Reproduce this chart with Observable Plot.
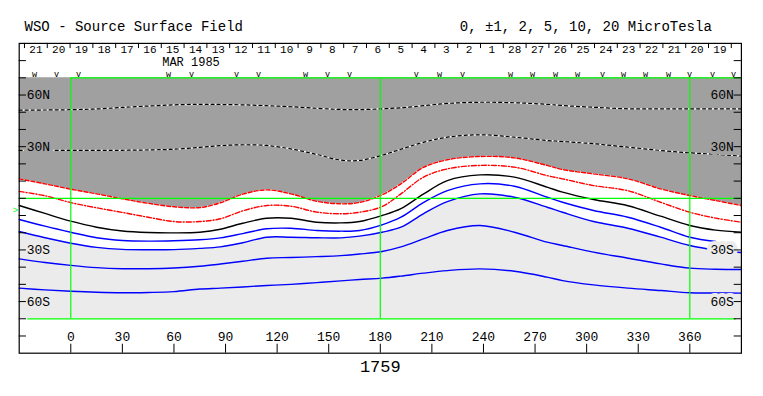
<!DOCTYPE html>
<html>
<head>
<meta charset="utf-8">
<script src="https://cdn.jsdelivr.net/npm/d3@7"></script>
<script src="https://cdn.jsdelivr.net/npm/@observablehq/plot@0.6"></script>
<style>
  html, body { margin: 0; padding: 0; background: #fff; }
  #chart svg { display: block; }
</style>
</head>
<body>
<div id="chart"></div>
<script>
// ---- Data ----
const title = "WSO - Source Surface Field";
const levelsText = "0, \u00b11, 2, 5, 10, 20 MicroTesla";
const rotation = "1759";
const monthLabel = "MAR 1985";

// Carrington longitude samples
const lon = [-30,-15,0,15,30,45,60,75,87,100,114,128,143,157,168,181,192,205,219,238,258,277,286,304,324,343,360,375,390];
// contour latitudes (degrees) per level (microTesla)
const n10 = [51.2,51.3,51.5,51.9,52.8,53.6,54.3,54.6,54.5,54.3,53.8,53.2,52.3,51.6,51.5,52.0,52.6,53.8,55.1,55.8,55.5,54.6,53.9,52.9,52.0,52.0,52.0,52.0,52.0];
const n5  = [27.8,27.8,27.8,27.8,27.9,28.1,28.5,29.6,30.6,31.1,30.7,28.7,25.5,22.2,22.0,25.0,28.5,32.5,35.5,36.9,35.5,33.6,33.0,31.7,29.7,27.8,26.4,25.6,24.5];
const n2  = [11.3,8.4,5.3,2.6,-0.3,-2.9,-4.9,-5.4,-2.6,2.4,4.9,2.6,-1.7,-3.2,-2.4,2.0,8.4,17.9,22.4,24.3,23.5,19.1,16.7,14.2,11.3,5.5,1.6,-1.3,-4.2];
const n1  = [4.0,1.5,-2.5,-5.5,-8.2,-11.0,-13.5,-13.5,-11.9,-7.3,-4.2,-4.6,-8.0,-9.0,-8.1,-4.8,2.6,12.2,17.1,19.1,18.1,13.2,11.3,7.4,4.4,-2.3,-8.1,-11.5,-13.9];
const z0  = [-4.2,-8.8,-13.3,-16.8,-19.0,-19.9,-20.1,-19.7,-18.0,-14.5,-11.6,-11.6,-13.9,-14.3,-13.5,-10.0,-6.0,2.4,10.3,13.6,12.3,6.5,3.6,-0.7,-4.3,-10.4,-15.8,-18.5,-19.7];
const p1  = [-12.3,-16.2,-19.7,-22.9,-24.5,-24.9,-24.7,-24.1,-23.0,-20.5,-17.7,-17.4,-18.7,-19.1,-18.7,-15.4,-11.0,-2.5,4.5,8.4,7.0,0.6,-2.3,-7.1,-11.0,-16.8,-22.6,-25.1,-27.0];
const p2  = [-19.3,-22.9,-26.1,-28.5,-29.7,-29.9,-29.8,-29.1,-28.2,-25.8,-22.6,-22.6,-22.9,-23.0,-22.0,-19.7,-16.8,-9.0,-1.9,2.6,0.6,-5.2,-8.1,-13.5,-17.4,-22.6,-27.4,-30.0,-31.5];
const p5  = [-35.2,-37.3,-39.0,-40.3,-40.9,-40.9,-40.5,-39.5,-38.2,-36.6,-34.8,-34.4,-33.9,-33.3,-32.4,-30.9,-28.2,-23.6,-18.7,-15.8,-19.7,-25.5,-27.4,-31.3,-34.8,-38.1,-40.6,-41.2,-41.4];
const p10 = [-52.2,-53.2,-54.0,-54.6,-54.9,-54.7,-54.2,-52.7,-52.2,-51.5,-50.7,-50.0,-49.0,-48.0,-47.2,-46.4,-45.2,-43.5,-42.0,-41.0,-42.4,-45.8,-47.8,-50.3,-52.2,-53.6,-54.9,-55.0,-55.1];

// Axis ticks and labels
const xTicks = [0,30,60,90,120,150,180,210,240,270,300,330,360];
const latTicks = [-80,-70,-60,-50,-40,-30,-20,-10,0,10,20,30,40,50,60,70,80];
const latLabels = ["60N","30N","30S","60S"];
const latLabelValues = [60,30,-30,-60];
const greenLon = [0,180,360];

// Day-of-month labels along the top (time runs right to left)
const dayLabels = ["21","20","19","18","17","16","15","14","13","12","11","10","9","8","7","6","5","4","3","2","1","28","27","26","25","24","23","22","21","20","19"];
const dayStart = -26.93, dayStep = 13.26;

// Observation markers along the top
const markerLon  = [-21.1,-8.3,4.5,56.8,70.2,96.4,109.2,136.5,149.3,162.1,201.0,214.4,227.8,255.7,268.5,281.9,294.7,309.2,321.5,334.3,347.6,359.8,373.2,385.4];
const markerType = ["w","v","v","w","v","v","v","w","v","v","v","w","v","W","W","W","w","v","w","w","w","v","v","v"];

// Earth latitude marker (B0)
const earthLat = -7.1;

// ---- Build tables ----
const rows = lon.map((x, i) => ({lon: x, n10: n10[i], n5: n5[i], n2: n2[i], n1: n1[i], z0: z0[i], p1: p1[i], p2: p2[i], p5: p5[i], p10: p10[i]}));
const dayTickLon = d3.range(dayLabels.length + 1).map(i => dayStart + dayStep * i);
const days = dayLabels.map((t, i) => ({t, lon: dayStart + dayStep * (i + 0.5)}));
const markers = markerLon.map((x, i) => ({lon: x, t: markerType[i]}));
const labLeft = latLabels.map((t, i) => ({t, lat: latLabelValues[i]}));

const c = v => () => v;
const curve = "catmull-rom";
const DARK = "#a0a0a0", LIGHT = "#ebebeb", GREEN = "#00ff00";
const FONT = "Liberation Mono, DejaVu Sans Mono, monospace";

const contour = (y, opts) => Plot.line(rows, {x: "lon", y, curve, strokeWidth: 1.4, ...opts});

const chart = Plot.plot({
  width: 763,
  height: 396,
  marginLeft: 18.7,
  marginRight: 22.1,
  marginTop: 42.9,
  marginBottom: 43.3,
  x: {domain: [-30, 390], axis: null},
  y: {domain: [-90, 90], axis: null},
  style: {fontFamily: FONT, background: "white", overflow: "visible"},
  marks: [
    // shaded polarity regions
    Plot.areaY(rows, {x: "lon", y1: "n2", y2: c(70), fill: DARK, curve}),
    Plot.areaY(rows, {x: "lon", y1: c(-70), y2: "p2", fill: LIGHT, curve}),
    // negative contours (dotted black/white on gray)
    contour("n10", {stroke: "white", strokeWidth: 1.2}),
    contour("n10", {stroke: "black", strokeWidth: 1.2, strokeDasharray: "3,3"}),
    contour("n5", {stroke: "white", strokeWidth: 1.2}),
    contour("n5", {stroke: "black", strokeWidth: 1.2, strokeDasharray: "3,3"}),
    contour("n2", {stroke: "#ff0000", strokeDasharray: "4,2"}),
    contour("n1", {stroke: "#ff0000", strokeDasharray: "5,2,1,2"}),
    // neutral line
    contour("z0", {stroke: "black"}),
    // positive contours
    Plot.line(rows, {filter: d => d.lon <= 375, x: "lon", y: "p1", curve, stroke: "#0000ff", strokeWidth: 1.4}),
    contour("p2", {stroke: "#0000ff"}),
    contour("p5", {stroke: "#0000ff"}),
    contour("p10", {stroke: "#0000ff"}),
    // green reference lines
    Plot.ruleX(greenLon, {y1: c(-70), y2: c(70), stroke: GREEN, strokeWidth: 1.2}),
    Plot.ruleY([0], {x1: c(-30), x2: c(390), stroke: GREEN, strokeWidth: 1.2}),
    Plot.ruleY([70], {x1: c(0), x2: c(390), stroke: GREEN, strokeWidth: 1.2}),
    Plot.ruleY([-70], {x1: c(-25), x2: c(387), stroke: GREEN, strokeWidth: 1.2}),
    // latitude labels with knock-out boxes
    Plot.text(labLeft, {x: c(-25.6), y: "lat", text: "t", textAnchor: "start", fontSize: 13,
      fill: "black", stroke: d => d.lat > 0 ? DARK : LIGHT, strokeWidth: 8, paintOrder: "stroke", strokeLinejoin: "miter"}),
    Plot.text(labLeft, {x: c(385.6), y: "lat", text: "t", textAnchor: "end", fontSize: 13,
      fill: "black", stroke: d => d.lat > 0 ? DARK : LIGHT, strokeWidth: 8, paintOrder: "stroke", strokeLinejoin: "miter"}),
    // latitude ticks on both sides
    Plot.ruleY(latTicks, {x1: c(-30), x2: c(-25.8), stroke: "black", strokeWidth: 1}),
    Plot.ruleY(latTicks, {x1: c(385.8), x2: c(390), stroke: "black", strokeWidth: 1}),
    // longitude ticks and labels
    Plot.ruleX(xTicks, {y1: c(-90), y2: c(-84.8), stroke: "black", strokeWidth: 1}),
    Plot.text(xTicks, {x: d => d, y: c(-80.6), text: d => String(d), fontSize: 13, fill: "black"}),
    // day ticks and labels
    Plot.ruleX(dayTickLon, {y1: c(87), y2: c(90), stroke: "black", strokeWidth: 1}),
    Plot.text(days, {x: "lon", y: c(86.6), text: "t", fontSize: 11, fill: "black"}),
    Plot.text([monthLabel], {x: c(69.9), y: c(79.2), text: d => d, fontSize: 12, fill: "black"}),
    // observation markers
    Plot.text(markers, {x: "lon", y: c(70.2), lineAnchor: "bottom", text: d => d.t.toLowerCase(), fontSize: 8.5, fill: "black",
      fontWeight: d => d.t === "W" ? "bold" : "normal"}),
    // earth latitude marker
    Plot.text([earthLat], {x: c(-30.6), y: d => d, text: c(">"), textAnchor: "end", fontSize: 9, fill: GREEN}),
    // titles
    Plot.text([title], {x: c(-26.9), y: c(99.8), text: d => d, textAnchor: "start", fontSize: 14, fill: "black"}),
    Plot.text([levelsText], {x: c(372.8), y: c(99.8), text: d => d, textAnchor: "end", fontSize: 14, fill: "black"}),
    Plot.text([rotation], {x: c(180), y: c(-97.7), text: d => d, fontSize: 17, fill: "black"}),
    Plot.frame({stroke: "black", strokeWidth: 1.2})
  ]
});
document.getElementById("chart").append(chart);
</script>
</body>
</html>
